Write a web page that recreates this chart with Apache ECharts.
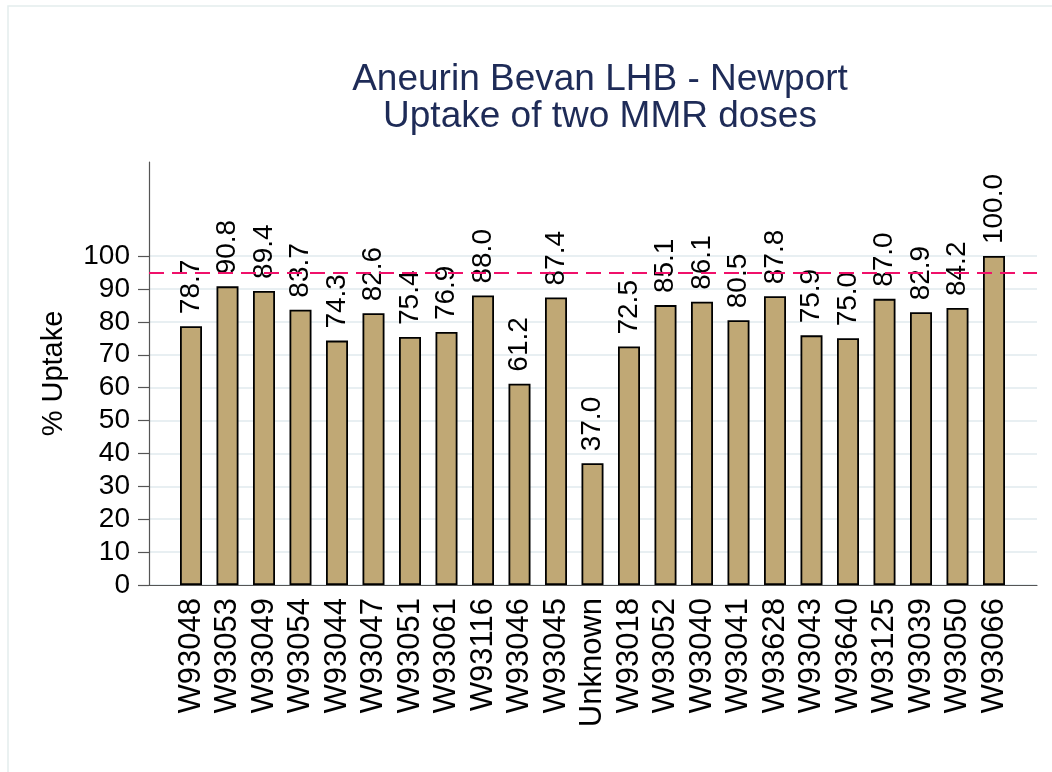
<!DOCTYPE html>
<html>
<head>
<meta charset="utf-8">
<script src="https://cdn.jsdelivr.net/npm/echarts@6/dist/echarts.min.js"></script>
<style>
  html, body { margin: 0; padding: 0; background: #ffffff; }
  #chart { width: 1052px; height: 772px; }
</style>
</head>
<body>
<div id="chart"></div>
<script>
// Practice codes, in plotted order
const practices = [
  'W93048', 'W93053', 'W93049', 'W93054', 'W93044', 'W93047', 'W93051', 'W93061',
  'W93116', 'W93046', 'W93045', 'Unknown', 'W93018', 'W93052', 'W93040', 'W93041',
  'W93628', 'W93043', 'W93640', 'W93125', 'W93039', 'W93050', 'W93066'
];

// % uptake of two MMR doses per practice
const uptake = [
  78.7, 90.8, 89.4, 83.7, 74.3, 82.6, 75.4, 76.9,
  88.0, 61.2, 87.4, 37.0, 72.5, 85.1, 86.1, 80.5,
  87.8, 75.9, 75.0, 87.0, 82.9, 84.2, 100.0
];

// Labelled y ticks and the 95% target line
const yTicks = [0, 10, 20, 30, 40, 50, 60, 70, 80, 90, 100];
const target = 95;

const Y_MAX = 128.6;
const FONT = '"Liberation Sans", Arial, sans-serif';

const chart = echarts.init(document.getElementById('chart'), null, { renderer: 'canvas' });

chart.setOption({
  backgroundColor: '#ffffff',
  animation: false,
  graphic: [{
    type: 'rect',
    shape: { x: 8, y: 6, width: 1200, height: 900 },
    style: { fill: 'none', stroke: '#e3eded', lineWidth: 1.5 },
    silent: true,
    z: -10
  }],
  title: {
    text: 'Aneurin Bevan LHB - Newport\nUptake of two MMR doses',
    left: 595,
    top: 56,
    textAlign: 'center',
    textStyle: {
      color: '#1e2b57',
      fontFamily: FONT,
      fontWeight: 'normal',
      fontSize: 37,
      lineHeight: 37
    }
  },
  grid: [
    // frame: axis lines, ticks, grid lines and target line
    { left: 149, right: 15, top: 162, bottom: 187 },
    // bars
    { left: 172.75, right: 39.75, top: 162, bottom: 187 }
  ],
  xAxis: [
    {
      gridIndex: 0,
      type: 'value',
      min: 0,
      max: 1,
      axisLine: { show: true, onZero: false, lineStyle: { color: '#555555', width: 1.2 } },
      axisTick: { show: false },
      axisLabel: { show: false },
      splitLine: { show: false }
    },
    {
      gridIndex: 1,
      type: 'category',
      data: practices,
      axisLine: { show: false },
      axisTick: { show: false },
      axisLabel: {
        interval: 0,
        rotate: 90,
        margin: 13,
        color: '#000000',
        fontFamily: FONT,
        fontSize: 31
      }
    }
  ],
  yAxis: [
    {
      gridIndex: 0,
      type: 'value',
      min: 0,
      max: Y_MAX,
      interval: 10,
      name: '% Uptake',
      nameLocation: 'middle',
      nameGap: 81,
      nameRotate: 90,
      nameTextStyle: { color: '#000000', fontFamily: FONT, fontSize: 29 },
      axisLine: { show: true, lineStyle: { color: '#555555', width: 1.2 } },
      axisTick: { show: true, length: 11, customValues: yTicks, lineStyle: { color: '#555555', width: 1.2 } },
      axisLabel: {
        customValues: yTicks,
        margin: 19,
        color: '#000000',
        fontFamily: FONT,
        fontSize: 28
      },
      splitLine: { show: true, lineStyle: { color: '#e8eff2', width: 2 } }
    },
    {
      gridIndex: 1,
      type: 'value',
      min: 0,
      max: Y_MAX,
      show: false,
      splitLine: { show: false }
    }
  ],
  series: [
    {
      type: 'line',
      xAxisIndex: 0,
      yAxisIndex: 0,
      data: [],
      silent: true,
      markLine: {
        silent: true,
        symbol: 'none',
        label: { show: false },
        lineStyle: { color: '#f0106a', type: [15, 8], width: 2.2 },
        data: [{ yAxis: target }]
      }
    },
    {
      type: 'bar',
      xAxisIndex: 1,
      yAxisIndex: 1,
      data: uptake,
      barWidth: 22,
      itemStyle: { color: '#c0a875', borderColor: '#000000', borderWidth: 1.8 },
      label: {
        show: true,
        position: 'top',
        rotate: 90,
        align: 'left',
        verticalAlign: 'middle',
        distance: 12,
        color: '#000000',
        fontFamily: FONT,
        fontSize: 28,
        formatter: p => p.value.toFixed(1)
      }
    }
  ]
});
</script>
</body>
</html>
